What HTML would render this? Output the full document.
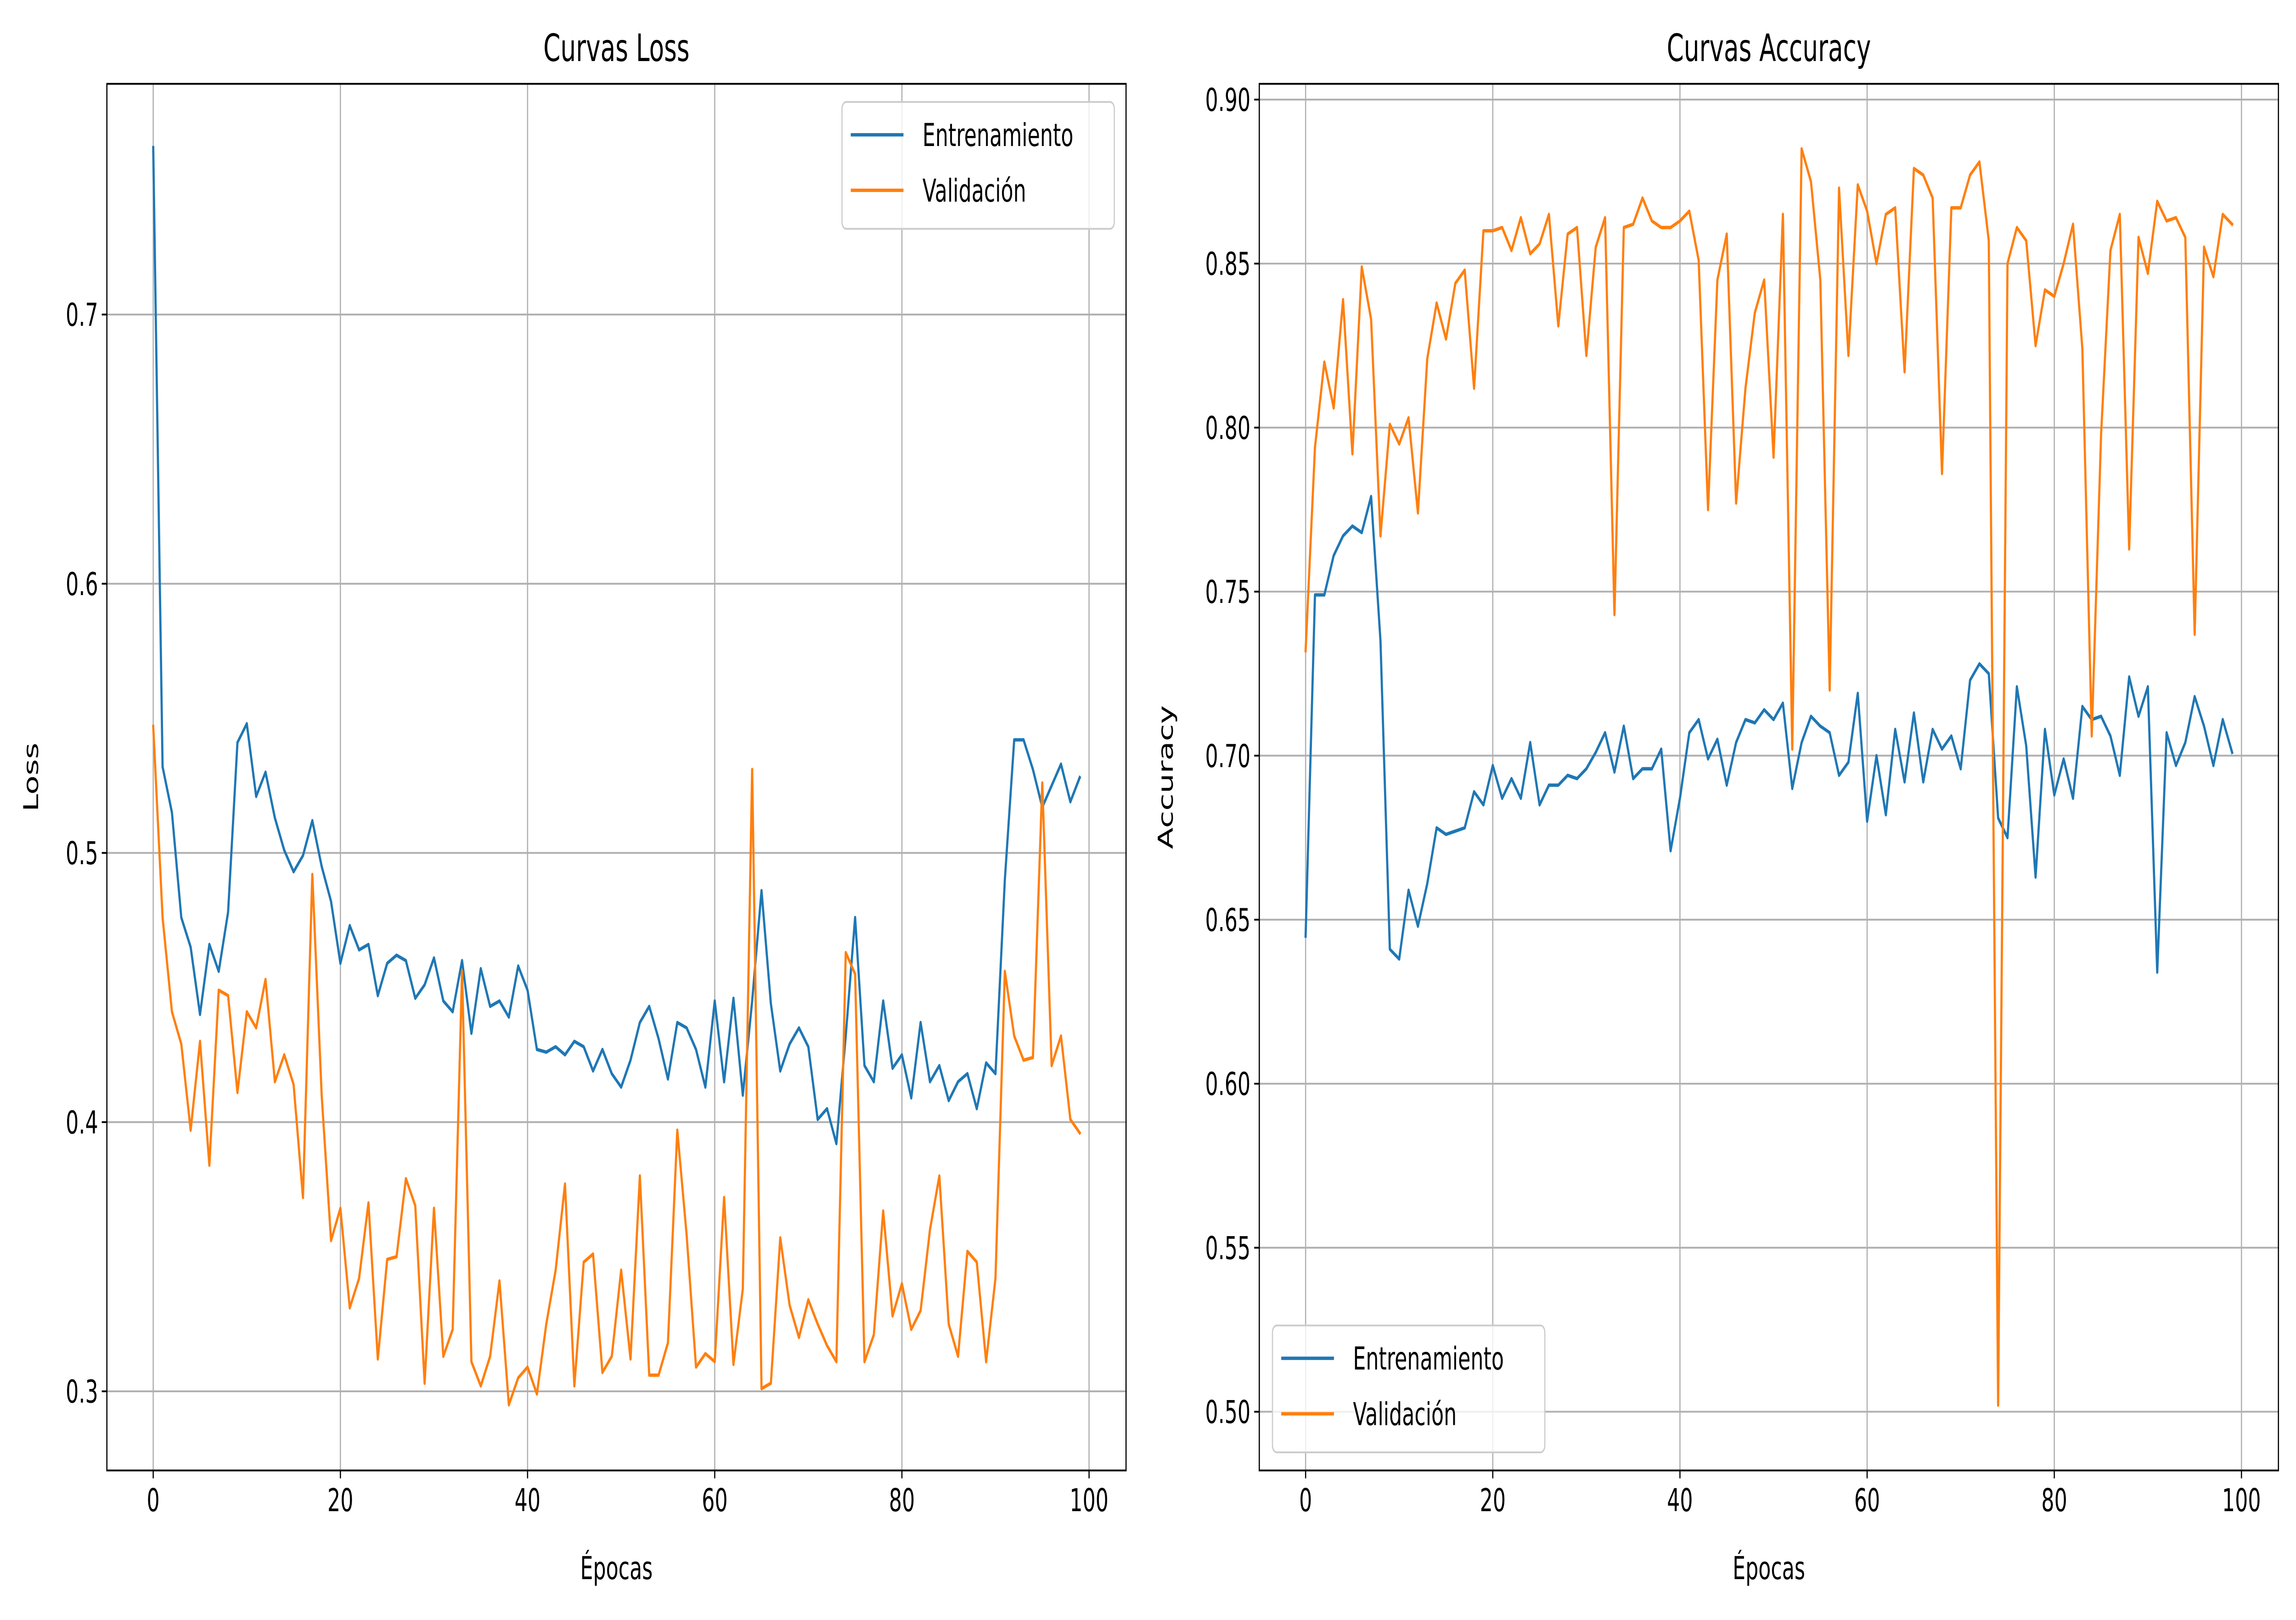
<!DOCTYPE html>
<html><head><meta charset="utf-8"><style>
html,body{margin:0;padding:0;background:#fff;width:100vw;height:100vh;overflow:hidden;}
svg{display:block;width:100vw;height:100vh;}
text{font-family:"DejaVu Sans","Liberation Sans",sans-serif;fill:#000;}
</style></head><body>
<svg id="fig" viewBox="0 0 1568 715" preserveAspectRatio="none" xmlns="http://www.w3.org/2000/svg">
<rect width="1568" height="715" fill="#fff"/>
<g id="root"></g>
</svg>
<script>
const epochs = Array.from({length:100}, (_, i) => i);
const lossTrain = [0.762,0.532,0.515,0.476,0.465,0.440,0.466,0.456,0.478,0.541,0.548,0.521,0.530,0.513,0.501,0.493,0.499,0.512,0.495,0.482,0.459,0.473,0.464,0.466,0.447,0.459,0.462,0.460,0.446,0.451,0.461,0.445,0.441,0.460,0.433,0.457,0.443,0.445,0.439,0.458,0.449,0.427,0.426,0.428,0.425,0.430,0.428,0.419,0.427,0.418,0.413,0.423,0.437,0.443,0.431,0.416,0.437,0.435,0.427,0.413,0.445,0.415,0.446,0.410,0.445,0.486,0.444,0.419,0.429,0.435,0.428,0.401,0.405,0.392,0.432,0.476,0.421,0.415,0.445,0.420,0.425,0.409,0.437,0.415,0.421,0.408,0.415,0.418,0.405,0.422,0.418,0.490,0.542,0.542,0.531,0.517,0.525,0.533,0.519,0.528];
const lossVal = [0.547,0.476,0.441,0.429,0.397,0.430,0.384,0.449,0.447,0.411,0.441,0.435,0.453,0.415,0.425,0.414,0.372,0.492,0.410,0.356,0.368,0.331,0.342,0.370,0.312,0.349,0.350,0.379,0.369,0.303,0.368,0.313,0.323,0.456,0.311,0.302,0.313,0.341,0.295,0.305,0.309,0.299,0.325,0.345,0.377,0.302,0.348,0.351,0.307,0.313,0.345,0.312,0.380,0.306,0.306,0.318,0.397,0.358,0.309,0.314,0.311,0.372,0.310,0.338,0.531,0.301,0.303,0.357,0.332,0.320,0.334,0.325,0.317,0.311,0.463,0.455,0.311,0.321,0.367,0.328,0.340,0.323,0.330,0.360,0.380,0.325,0.313,0.352,0.348,0.311,0.342,0.456,0.432,0.423,0.424,0.526,0.421,0.432,0.401,0.396];
const accTrain = [0.645,0.749,0.749,0.761,0.767,0.770,0.768,0.779,0.735,0.641,0.638,0.659,0.648,0.661,0.678,0.676,0.677,0.678,0.689,0.685,0.697,0.687,0.693,0.687,0.704,0.685,0.691,0.691,0.694,0.693,0.696,0.701,0.707,0.695,0.709,0.693,0.696,0.696,0.702,0.671,0.687,0.707,0.711,0.699,0.705,0.691,0.704,0.711,0.710,0.714,0.711,0.716,0.690,0.704,0.712,0.709,0.707,0.694,0.698,0.719,0.680,0.700,0.682,0.708,0.692,0.713,0.692,0.708,0.702,0.706,0.696,0.723,0.728,0.725,0.681,0.675,0.721,0.703,0.663,0.708,0.688,0.699,0.687,0.715,0.711,0.712,0.706,0.694,0.724,0.712,0.721,0.634,0.707,0.697,0.704,0.718,0.709,0.697,0.711,0.701];
const accVal = [0.732,0.794,0.820,0.806,0.839,0.792,0.849,0.833,0.767,0.801,0.795,0.803,0.774,0.821,0.838,0.827,0.844,0.848,0.812,0.860,0.860,0.861,0.854,0.864,0.853,0.856,0.865,0.831,0.859,0.861,0.822,0.855,0.864,0.743,0.861,0.862,0.870,0.863,0.861,0.861,0.863,0.866,0.851,0.775,0.845,0.859,0.777,0.812,0.835,0.845,0.791,0.865,0.702,0.885,0.875,0.845,0.720,0.873,0.822,0.874,0.866,0.850,0.865,0.867,0.817,0.879,0.877,0.870,0.786,0.867,0.867,0.877,0.881,0.857,0.502,0.850,0.861,0.857,0.825,0.842,0.840,0.850,0.862,0.824,0.706,0.798,0.854,0.865,0.763,0.858,0.847,0.869,0.863,0.864,0.858,0.737,0.855,0.846,0.865,0.862];
const xTicks = [0,20,40,60,80,100];
const lossTicks = [0.3,0.4,0.5,0.6,0.7];
const lossTickLabels = ["0.3","0.4","0.5","0.6","0.7"];
const accTicks = [0.50,0.55,0.60,0.65,0.70,0.75,0.80,0.85,0.90];
const accTickLabels = ["0.50","0.55","0.60","0.65","0.70","0.75","0.80","0.85","0.90"];

const NS = "http://www.w3.org/2000/svg";
const root = document.getElementById('root');
function mk(tag, attrs, parent, txt){
  const e = document.createElementNS(NS, tag);
  for (const k in attrs) e.setAttribute(k, attrs[k]);
  if (txt !== undefined) e.textContent = txt;
  (parent||root).appendChild(e);
  return e;
}

function panel(cfg){
  const g = mk('g', {});
  
  
  const L=cfg.left, R=cfg.right, T=37, B=649;
  const xs = v => L + (v - (-4.95)) / 108.9 * (R - L);
  const ys = v => B - (v - cfg.ymin) / (cfg.ymax - cfg.ymin) * (B - T);
  xTicks.forEach(t => {
    const l = mk('line', {x1:xs(t), x2:xs(t), y1:T, y2:B, stroke:'#b0b0b0', 'stroke-width':0.8}, g);
    
    
  });
  cfg.ticks.forEach(t => {
    const l = mk('line', {x1:L, x2:R, y1:ys(t), y2:ys(t), stroke:'#b0b0b0', 'stroke-width':0.8}, g);
    
    
  });
  const series = [[cfg.train,'#1f77b4','series-train'],[cfg.val,'#ff7f0e','series-validation']];
  series.forEach(s => {
    const d = s[0].map((v,i) => (i?'L':'M') + xs(epochs[i]).toFixed(2) + ' ' + ys(v).toFixed(2)).join(' ');
    const p = mk('path', {d:d, fill:'none', stroke:s[1], 'stroke-width':1.5, 'stroke-linejoin':'round', 'stroke-linecap':'square'}, g);
    
    
  });
  const fr = mk('rect', {x:L, y:T, width:R-L, height:B-T, fill:'none', stroke:'#000', 'stroke-width':0.8}, g);
  
  
  xTicks.forEach(t => {
    mk('line', {x1:xs(t), x2:xs(t), y1:B, y2:B+3.5, stroke:'#000', 'stroke-width':0.8}, g);
    const tx = mk('text', {x:xs(t), y:B+18, 'font-size':13.9, 'text-anchor':'middle'}, g, String(t));
    
    
  });
  cfg.ticks.forEach((t,i) => {
    mk('line', {x1:L-3.5, x2:L, y1:ys(t), y2:ys(t), stroke:'#000', 'stroke-width':0.8}, g);
    const tx = mk('text', {x:L-6, y:ys(t)+5, 'font-size':13.9, 'text-anchor':'end'}, g, cfg.labels[i]);
    
    
  });
  const ti = mk('text', {x:(L+R)/2, y:27, 'font-size':16.7, 'text-anchor':'middle'}, g, cfg.title);
  
  
  const xl = mk('text', {x:(L+R)/2, y:697, 'font-size':13.9, 'text-anchor':'middle'}, g, 'Épocas');
  
  
  const yl = mk('text', {x:0, y:0, 'font-size':13.9, 'text-anchor':'middle', transform:'translate('+cfg.ylx+' '+((T+B)/2)+') rotate(-90)'}, g, cfg.ylabel);
  
  
  const lg = mk('g', {}, g);
  
  
  const bx = cfg.legX, by = cfg.legY;
  mk('rect', {x:bx, y:by, width:186, height:56, rx:3, fill:'#fff', 'fill-opacity':0.8, stroke:'#cccccc', 'stroke-width':0.8}, lg);
  [['Entrenamiento','#1f77b4',14.5],['Validación','#ff7f0e',39]].forEach(e => {
    const en = mk('g', {}, lg);
    
    
    mk('line', {x1:bx+6, x2:bx+42, y1:by+e[2], y2:by+e[2], stroke:e[1], 'stroke-width':1.5}, en);
    mk('text', {x:bx+55, y:by+e[2]+5, 'font-size':13.9}, en, e[0]);
  });
}

panel({name:'loss-chart', left:73, right:769, ymin:0.2706, ymax:0.7857, ticks:lossTicks, labels:lossTickLabels,
  train:lossTrain, val:lossVal, title:'Curvas Loss', ylabel:'Loss', ylx:26, legX:575, legY:45});
panel({name:'accuracy-chart', left:860, right:1556, ymin:0.4821, ymax:0.9048, ticks:accTicks, labels:accTickLabels,
  train:accTrain, val:accVal, title:'Curvas Accuracy', ylabel:'Accuracy', ylx:801, legX:869, legY:585});
</script>
</body></html>
